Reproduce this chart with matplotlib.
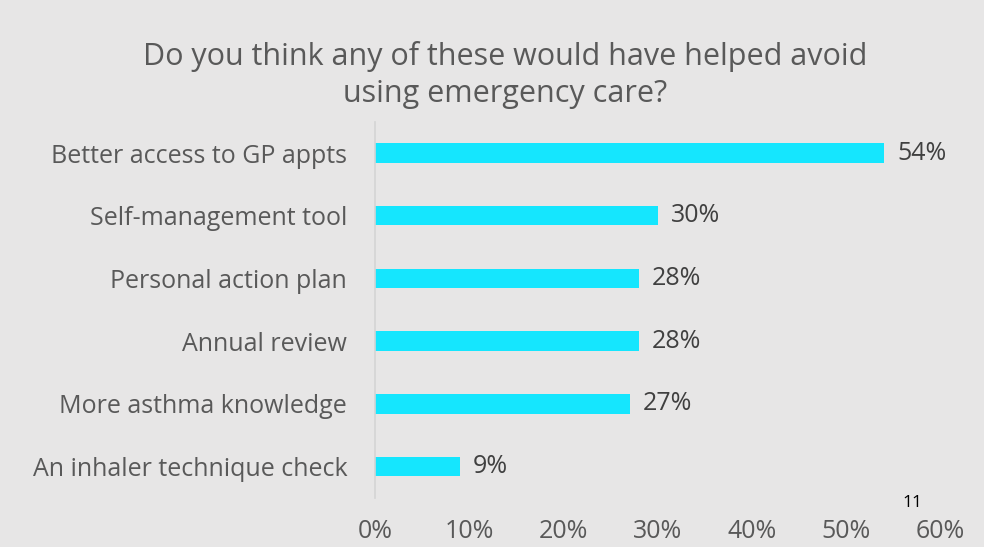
import matplotlib
matplotlib.use("Agg")
import matplotlib.pyplot as plt

categories = [
    "Better access to GP appts",
    "Self-management tool",
    "Personal action plan",
    "Annual review",
    "More asthma knowledge",
    "An inhaler technique check",
]
values = [54, 30, 28, 28, 27, 9]
x_ticks = [0, 10, 20, 30, 40, 50, 60]
x_tick_labels = [f"{t}%" for t in x_ticks]
title_text = "Do you think any of these would have helped avoid\nusing emergency care?"
page_number = "11"

plt.rcParams["font.family"] = ["Open Sans", "DejaVu Sans"]

bg = "#E7E6E6"
bar_color = "#15E6FE"
label_color = "#595959"
value_color = "#404040"

fig = plt.figure(figsize=(9.84, 5.47), dpi=100, facecolor=bg)
ax = fig.add_axes([0.381, 0.0896, 0.575, 0.688], facecolor=bg)

ypos = list(range(len(categories)))
ax.barh(ypos, values, height=0.31, color=bar_color, zorder=2)
ax.set_ylim(len(categories) - 0.5, -0.5)
ax.set_xlim(0, 60)

for y, v in zip(ypos, values):
    ax.text(v + 1.4, y, f"{v}%", va="center", ha="left",
            fontsize=18, color=value_color)

ax.set_yticks(ypos)
ax.set_yticklabels(categories, fontsize=18, color=label_color)
ax.set_xticks(x_ticks)
ax.set_xticklabels(x_tick_labels, fontsize=18, color=label_color)
ax.tick_params(axis="both", length=0)
ax.tick_params(axis="y", pad=20)
ax.tick_params(axis="x", pad=15)

for side in ("top", "right", "bottom"):
    ax.spines[side].set_visible(False)
ax.spines["left"].set_color("#D4D4D4")
ax.spines["left"].set_linewidth(1.2)

fig.text(505 / 984, 1 - 75 / 547, title_text, ha="center", va="center",
         fontsize=22, color=label_color, linespacing=1.27)
fig.text(912 / 984, 1 - 503 / 547, page_number, ha="center", va="center",
         fontsize=12.5, color="#000000")

fig.savefig("out.png", dpi=100, facecolor=bg)
